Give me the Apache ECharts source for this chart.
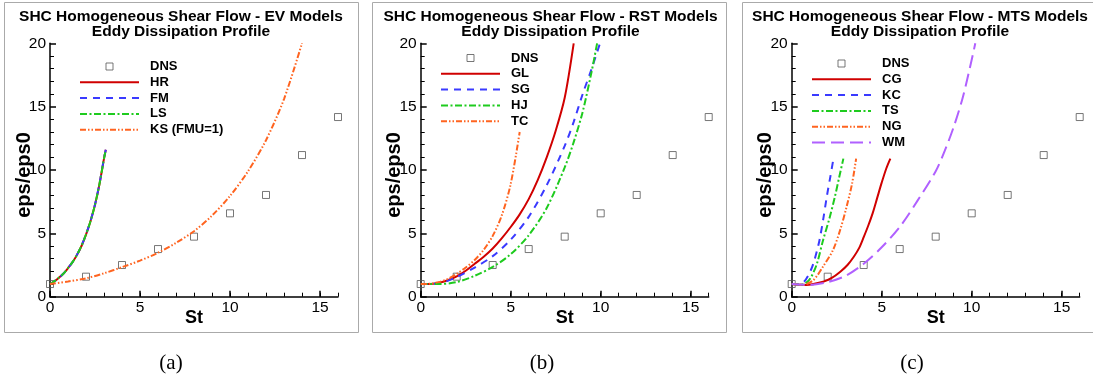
<!DOCTYPE html>
<html><head><meta charset="utf-8">
<script src="https://cdn.jsdelivr.net/npm/echarts@6/dist/echarts.min.js"></script>
<style>html,body{margin:0;padding:0;background:#fff}#c{width:1093px;height:380px}</style>
</head><body><div id="c"></div>
<script>
const FONT = "'Liberation Sans', Arial, Helvetica, sans-serif";

// ---- data ----
const xMajorTicks = [0, 5, 10, 15];
const panelTitles = [
  'SHC Homogeneous Shear Flow - EV Models\nEddy Dissipation Profile',
  'SHC Homogeneous Shear Flow - RST Models\nEddy Dissipation Profile',
  'SHC Homogeneous Shear Flow - MTS Models\nEddy Dissipation Profile'
];
const captions = ['(a)', '(b)', '(c)'];
const dnsSt  = [0, 2, 4, 6, 8, 10, 12, 14, 16];
const dnsEps = [1.0, 1.58, 2.5, 3.76, 4.74, 6.58, 8.03, 11.18, 14.18];

// panel (a) EV models
const hrData = [[0,1],[0.25,1.22],[0.5,1.5],[0.75,1.82],[1,2.25],[1.25,2.72],[1.5,3.3],[1.75,4.0],[2,4.9],[2.25,5.95],[2.5,7.25],[2.75,8.9],[3,10.9],[3.1,11.6]];
const fmData = [[0,1],[0.25,1.22],[0.5,1.5],[0.75,1.83],[1,2.26],[1.25,2.73],[1.5,3.32],[1.75,4.02],[2,4.92],[2.25,5.97],[2.5,7.27],[2.75,8.92],[3,10.92],[3.1,11.6]];
const lsData = [[0,1],[0.25,1.23],[0.5,1.51],[0.75,1.83],[1,2.26],[1.25,2.73],[1.5,3.31],[1.75,4.01],[2,4.91],[2.25,5.96],[2.5,7.26],[2.75,8.91],[3,10.9],[3.1,11.6]];
const ksData = [[0,1],[1,1.2],[2,1.45],[3,1.85],[4,2.33],[5,2.85],[6,3.47],[7,4.25],[8,5.17],[9,6.4],[10,7.95],[11,9.9],[12,12.35],[13,15.6],[14,20]];

// panel (b) RST models
const glData = [[0,1],[0.5,1.0],[1,1.1],[1.5,1.3],[2,1.6],[2.5,2.05],[3,2.6],[3.5,3.15],[4,3.8],[4.5,4.6],[5,5.5],[5.5,6.5],[6,7.7],[6.5,9.2],[7,11],[7.5,13.1],[8,15.7],[8.5,20]];
const sgData = [[0,1],[1,1.05],[2,1.55],[3,2.3],[4,3.2],[5,4.5],[6,6.3],[7,8.8],[8,11.9],[8.5,13.8],[9,16.0],[9.5,18.0],[9.96,20]];
const hjData = [[0,1],[1,1.0],[2,1.15],[3,1.65],[4,2.35],[5,3.35],[6,4.85],[7,7.0],[8,10.2],[8.5,12.2],[9,14.6],[9.5,17.8],[9.8,20]];
const tcData = [[0,1],[0.5,1.02],[1,1.15],[1.5,1.4],[2,1.8],[2.5,2.3],[3,2.9],[3.5,3.7],[4,4.8],[4.5,6.4],[5,8.9],[5.5,13.0]];

// panel (c) MTS models
const cgData = [[0,1],[0.8,0.93],[1.75,1.18],[2.25,1.5],[2.7,1.97],[3.1,2.5],[3.45,3.15],[3.75,3.85],[4.0,4.7],[4.25,5.6],[4.5,6.6],[4.75,7.8],[5.0,9.0],[5.25,10.1],[5.48,10.9]];
const kcData = [[0,1],[0.4,0.97],[0.7,1.2],[1.0,1.9],[1.2,2.6],[1.4,3.6],[1.55,4.5],[1.75,6.1],[1.95,7.9],[2.15,9.5],[2.32,10.9]];
const tsData = [[0,1],[0.5,0.95],[0.85,1.15],[1.1,1.6],[1.4,2.6],[1.75,4.5],[2.1,6.2],[2.4,7.9],[2.65,9.5],[2.87,10.9]];
const ngData = [[0,1],[0.6,0.95],[1.2,1.3],[1.75,2.4],[2.3,3.7],[2.7,5.3],[3.05,7.1],[3.35,8.9],[3.58,10.9]];
const wmData = [[0,1],[1,0.93],[2,1.15],[3,1.65],[4,2.6],[5,3.9],[6,5.5],[7,7.6],[8,9.9],[8.5,11.5],[9,13.4],[9.5,15.7],[10,18.7],[10.2,20]];

// ---- styles ----
const RED = '#d00000', BLUE = '#3a3aff', GREEN = '#1ecb1e', ORANGE = '#ff6420', PURPLE = '#b060ff';
const DASH = [7, 6], DASHDOT = [7, 2.5, 2, 2.5], DASHDOTDOT = [6, 2, 1.5, 2, 1.5, 2], LONGDASH = [13, 6];

const panels = [
  { left: 50, boxX: 4.5, capX: 171, titleX: 181,
    lines: [['HR', hrData, RED, 'solid'], ['FM', fmData, BLUE, DASH], ['LS', lsData, GREEN, DASHDOT], ['KS (FMU=1)', ksData, ORANGE, DASHDOTDOT]],
    legendLeft: 79, legendTop: 59.5 },
  { left: 420.7, boxX: 372.5, capX: 542, titleX: 550.5,
    lines: [['GL', glData, RED, 'solid'], ['SG', sgData, BLUE, DASH], ['HJ', hjData, GREEN, DASHDOT], ['TC', tcData, ORANGE, DASHDOTDOT]],
    legendLeft: 440, legendTop: 51 },
  { left: 791.7, boxX: 742.5, capX: 912, titleX: 920,
    lines: [['CG', cgData, RED, 'solid'], ['KC', kcData, BLUE, DASH], ['TS', tsData, GREEN, DASHDOT], ['NG', ngData, ORANGE, DASHDOTDOT], ['WM', wmData, PURPLE, LONGDASH]],
    legendLeft: 811, legendTop: 56.5 }
];

const grids = [], xAxes = [], yAxes = [], series = [], legends = [], titles = [], graphics = [];
const dnsPts = dnsSt.map((s, i) => [s, dnsEps[i]]);

panels.forEach((p, k) => {
  grids.push({ left: p.left, top: 43.3, width: 288, height: 253.4, containLabel: false });
  xAxes.push({
    type: 'value', gridIndex: k, position: 'bottom', min: 0, max: 16, interval: 5,
    name: 'St', nameLocation: 'middle', nameGap: 12, nameMoveOverlap: false,
    nameTextStyle: { fontFamily: FONT, fontSize: 18, fontWeight: 'bold', color: '#000', lineHeight: 18 },
    axisLine: { onZero: false, lineStyle: { color: '#000', width: 1.5 } },
    axisTick: { inside: true, length: 6, customValues: xMajorTicks, lineStyle: { color: '#000', width: 1.5 } },
    axisLabel: { customValues: xMajorTicks, margin: 3, fontFamily: FONT, fontSize: 15.5, color: '#000' },
    splitLine: { show: false }
  });
  xAxes.push({
    type: 'value', gridIndex: k, position: 'bottom', min: 0, max: 16, interval: 1,
    axisLine: { show: false, onZero: false },
    axisTick: { inside: true, length: 4, lineStyle: { color: '#000', width: 1 } },
    axisLabel: { show: false }, splitLine: { show: false }
  });
  yAxes.push({
    type: 'value', gridIndex: k, min: 0, max: 20, interval: 5,
    name: 'eps/eps0', nameLocation: 'middle', nameGap: 16, nameMoveOverlap: false,
    nameTextStyle: { fontFamily: FONT, fontSize: 20, fontWeight: 'bold', color: '#000', lineHeight: 20, padding: [0, 10, 0, 0] },
    axisLine: { onZero: false, lineStyle: { color: '#000', width: 1.5 } },
    axisTick: { inside: true, length: 6, lineStyle: { color: '#000', width: 1.5 } },
    minorTick: { show: true, splitNumber: 5, length: 4, lineStyle: { color: '#000', width: 1 } },
    axisLabel: { margin: 4, fontFamily: FONT, fontSize: 15.5, color: '#000' },
    splitLine: { show: false }
  });
  series.push({
    name: 'DNS', type: 'scatter', xAxisIndex: 2 * k, yAxisIndex: k, data: dnsPts,
    symbol: 'rect', symbolSize: 7,
    itemStyle: { color: 'rgba(255,255,255,0)', borderColor: '#555', borderWidth: 1 }
  });
  const names = ['DNS'];
  p.lines.forEach(([name, data, color, type]) => {
    names.push(name);
    series.push({
      name, type: 'line', xAxisIndex: 2 * k, yAxisIndex: k, data,
      symbol: 'none', smooth: 0.3, clip: true,
      color, lineStyle: { color, width: 2, type }
    });
  });
  legends.push({
    orient: 'vertical', left: p.legendLeft, top: p.legendTop, padding: 0,
    itemWidth: 59, itemHeight: 7, itemGap: 1.8, symbolKeepAspect: true,
    selectedMode: false,
    data: names.map(n => n === 'DNS'
      ? { name: n, icon: 'path://M0,0H10V10H0Z', itemStyle: { color: '#fff', borderColor: '#555', borderWidth: 1 } }
      : { name: n, itemStyle: { color: 'rgba(0,0,0,0)', borderWidth: 0, opacity: 0 } }),
    textStyle: { fontFamily: FONT, fontSize: 13, fontWeight: 'bold', color: '#000', lineHeight: 14, padding: [0, 0, 0, 6] }
  });
  titles.push({
    text: panelTitles[k], left: p.titleX, top: 9.5, textAlign: 'center', padding: 0,
    textStyle: { fontFamily: FONT, fontSize: 15.5, fontWeight: 'bold', color: '#000', lineHeight: 15 }
  });
  graphics.push({
    type: 'rect', shape: { x: p.boxX, y: 2.5, width: 354, height: 330 },
    style: { fill: 'none', stroke: '#aaaaaa', lineWidth: 1 }, silent: true, z: -1
  });
  graphics.push({
    type: 'text', x: p.capX, y: 363,
    style: { text: captions[k], font: "21px 'Liberation Serif', 'DejaVu Serif', serif", fill: '#000', textAlign: 'center', textVerticalAlign: 'middle' }
  });
});

const chart = echarts.init(document.getElementById('c'), null, { renderer: 'canvas' });
chart.setOption({
  animation: false,
  backgroundColor: '#fff',
  title: titles, grid: grids, xAxis: xAxes, yAxis: yAxes,
  legend: legends, series, graphic: graphics
});
</script></body></html>
